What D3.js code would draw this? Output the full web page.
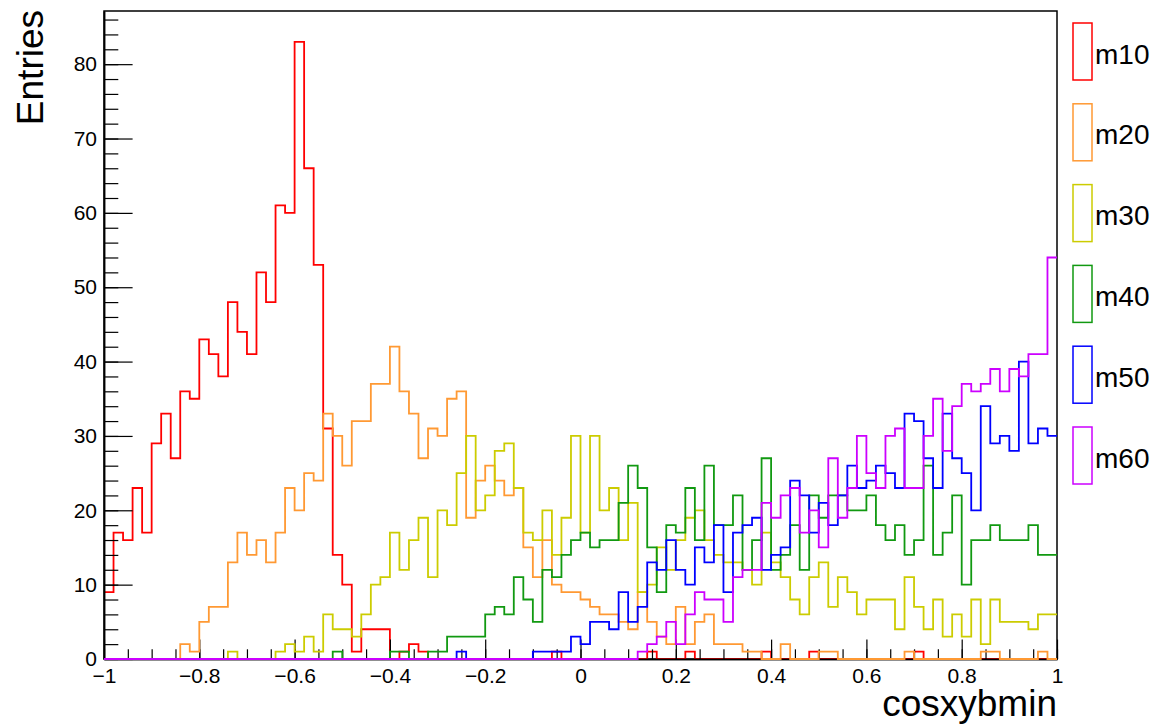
<!DOCTYPE html>
<html>
<head>
<meta charset="utf-8">
<script src="https://cdn.jsdelivr.net/npm/d3@7"></script>
<style>
  html, body { margin: 0; padding: 0; background: #fff; }
  svg { display: block; font-family: "Liberation Sans", Arial, Helvetica, sans-serif; }
</style>
</head>
<body>
<svg id="chart" width="1158" height="726"></svg>
<script>
// ---- data (100 bins of width 0.02 on [-1, 1]) ----
const xMin = -1, xMax = 1, nBins = 100;
const seriesNames = ["m10", "m20", "m30", "m40", "m50", "m60"];
const seriesColors = ["#ff0000", "#ff9933", "#cccc00", "#119911", "#0000ff", "#cc00ff"];

const m10 = [9,17,16,23,17,29,33,27,36,35, 43,41,38,48,44,41,52,48,61,60,
             83,66,53,31,14,10,1,4,4,4, 0,1,2,1,0,0,0,0,0,0,
             0,0,0,0,0,0,0,1,0,0, 0,0,0,0,0,0,0,1,0,0,
             0,1,0,0,0,0,0,0,0,1, 0,0,0,0,1,0,0,0,0,0,
             0,0,0,0,0,1,0,0,0,0, 0,0,0,0,0,0,0,0,0,0];
const m20 = [0,0,0,0,0,0,0,0,2,1, 5,7,7,13,17,14,16,13,17,23,
             20,25,24,33,30,26,32,32,37,37, 42,36,33,27,31,30,35,36,19,24,
             26,24,22,23,15,11,16,10,9,9, 8,7,6,6,5,4,9,5,3,2,
             7,2,5,6,2,2,2,1,1,0, 0,2,0,0,0,1,1,0,0,0,
             0,0,0,0,1,0,0,0,0,0, 0,0,1,1,0,0,0,0,1,0];
const m30 = [0,0,0,0,0,0,0,0,0,0, 0,0,0,1,0,0,0,0,1,2,
             1,3,1,6,4,4,3,6,10,11, 17,12,16,19,11,20,18,25,30,20,
             22,28,29,23,17,16,20,14,19,30, 17,30,20,23,16,21,9,10,15,12,
             16,19,20,16,14,13,13,12,10,17, 13,11,8,6,11,13,7,11,9,6,
             8,8,8,4,11,7,4,8,3,6, 3,8,2,8,5,5,5,4,6,6];
const m40 = [0,0,0,0,0,0,0,0,0,0, 0,0,0,0,0,0,0,0,0,0,
             0,0,0,0,1,0,0,0,0,0, 1,1,0,0,1,1,3,3,3,3,
             6,7,6,11,8,5,12,11,14,16, 17,15,16,16,21,26,23,15,9,18,
             17,23,16,26,18,18,22,12,16,27, 12,14,18,12,22,19,22,22,20,20,
             22,18,16,18,14,16,26,14,17,22, 10,16,16,18,16,16,16,18,14,14];
const m50 = [0,0,0,0,0,0,0,0,0,0, 0,0,0,0,0,0,0,0,0,0,
             0,0,0,0,0,0,0,0,0,0, 0,0,0,0,0,0,0,1,0,0,
             0,0,0,0,0,1,1,1,1,3, 2,5,5,4,9,5,7,13,12,16,
             12,10,15,13,18,9,17,18,19,12, 14,15,24,22,17,21,18,22,26,23,
             24,26,25,23,33,32,27,23,33,27, 25,20,34,29,30,28,40,29,31,30];
const m60 = [0,0,0,0,0,0,0,0,0,0, 0,0,0,0,0,0,0,0,0,0,
             0,0,0,0,0,0,0,0,0,0, 0,0,0,0,0,0,0,0,0,0,
             0,0,0,0,0,0,0,0,0,0, 0,0,0,0,0,0,1,2,3,5,
             2,6,9,8,8,5,11,12,12,21, 19,22,23,17,20,15,27,19,23,30,
             25,23,30,31,23,23,30,35,28,34, 37,36,37,39,36,39,38,41,41,54];
const seriesValues = [m10, m20, m30, m40, m50, m60];

const xMajorTicks = [-1, -0.8, -0.6, -0.4, -0.2, 0, 0.2, 0.4, 0.6, 0.8, 1];
const xTickLabels = ["\u22121", "\u22120.8", "\u22120.6", "\u22120.4", "\u22120.2", "0", "0.2", "0.4", "0.6", "0.8", "1"];
const yMajorTicks = [0, 10, 20, 30, 40, 50, 60, 70, 80];
const yMax = 87.15;

// ---- layout ----
const L = 104, R = 1057, T = 11, B = 659;
const svg = d3.select("#chart");
const x = d3.scaleLinear().domain([xMin, xMax]).range([L, R]);
const y = d3.scaleLinear().domain([0, yMax]).range([B, T]);
const binW = (xMax - xMin) / nBins;

const line = d3.line().curve(d3.curveStepAfter).x(d => x(d[0])).y(d => y(d[1]));
function histPoints(vals) {
  const pts = vals.map((v, i) => [xMin + i * binW, v]);
  pts.push([xMax, vals[vals.length - 1]]);
  return pts;
}
function drawHist(i) {
  svg.append("path")
    .attr("d", line(histPoints(seriesValues[i])))
    .attr("fill", "none")
    .attr("stroke", seriesColors[i])
    .attr("stroke-width", 1.8);
}

// frame
svg.append("rect").attr("x", L).attr("y", T).attr("width", R - L).attr("height", B - T)
  .attr("fill", "none").attr("stroke", "#000").attr("stroke-width", 1.5);

// first histogram, then axes (as ROOT does), then the rest
drawHist(0);

const xMinor = d3.range(0, 41).map(k => xMin + k * 0.05);
const yMinor = d3.range(0, 44).map(k => k * 2);

const gxMinor = svg.append("g").attr("transform", `translate(0,${B})`)
  .call(d3.axisBottom(x).tickValues(xMinor).tickSize(-9.7).tickSizeOuter(0).tickFormat(""));
const gx = svg.append("g").attr("transform", `translate(0,${B})`)
  .call(d3.axisBottom(x).tickValues(xMajorTicks).tickSize(-19.4).tickSizeOuter(0).tickPadding(9)
    .tickFormat((d, i) => xTickLabels[i]));
const gyMinor = svg.append("g").attr("transform", `translate(${L},0)`)
  .call(d3.axisLeft(y).tickValues(yMinor).tickSize(-14.3).tickSizeOuter(0).tickFormat(""));
const gy = svg.append("g").attr("transform", `translate(${L},0)`)
  .call(d3.axisLeft(y).tickValues(yMajorTicks).tickSize(-28.6).tickSizeOuter(0).tickPadding(7));

[gxMinor, gx, gyMinor, gy].forEach(g => {
  g.select(".domain").attr("stroke", "#000").attr("stroke-width", 1.5);
  g.selectAll(".tick line").attr("stroke", "#000").attr("stroke-width", 1.2);
  g.selectAll(".tick text").attr("fill", "#000").attr("font-size", 21)
    .attr("font-family", "'Liberation Sans', Arial, sans-serif");
});

for (let i = 1; i < seriesValues.length; i++) drawHist(i);

// titles
svg.append("text").attr("x", R).attr("y", 716).attr("text-anchor", "end")
  .attr("font-size", 37).attr("fill", "#000").text("cosxybmin");
svg.append("text").attr("transform", "translate(43,10) rotate(-90)").attr("text-anchor", "end")
  .attr("font-size", 37).attr("fill", "#000").text("Entries");

// legend
const legTop = 23, legStep = 80.8, boxH = 57;
seriesNames.forEach((name, i) => {
  const ty = legTop + i * legStep;
  svg.append("rect").attr("x", 1073).attr("y", ty).attr("width", 19).attr("height", boxH)
    .attr("fill", "none").attr("stroke", seriesColors[i]).attr("stroke-width", 1.5);
  svg.append("text").attr("x", 1095).attr("y", ty + 40.5).attr("font-size", 28)
    .attr("fill", "#000").text(name);
});
</script>
</body>
</html>
